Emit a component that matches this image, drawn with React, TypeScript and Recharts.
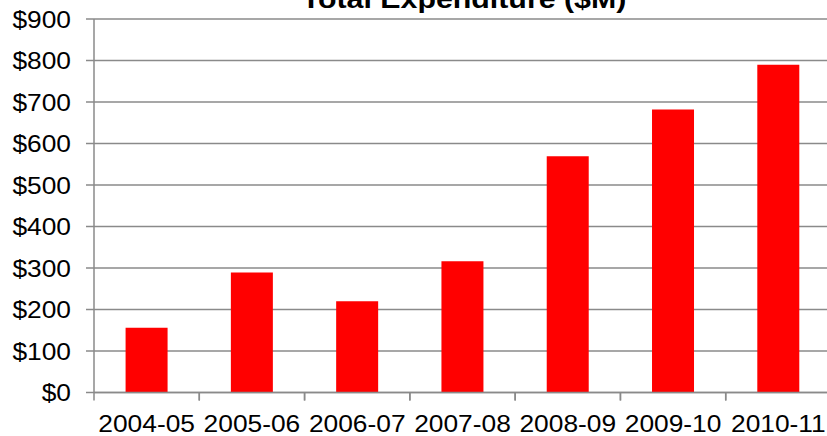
import React from "react";
import { BarChart, Bar, XAxis, YAxis, CartesianGrid } from "recharts";

const categories = ["2004-05", "2005-06", "2006-07", "2007-08", "2008-09", "2009-10", "2010-11"];
const expenditure = [156, 289, 220, 316, 569, 682, 790];
const yTicks = [0, 100, 200, 300, 400, 500, 600, 700, 800, 900];
const title = "Total Expenditure ($M)";

const data = categories.map((c, i) => ({ year: c, value: expenditure[i] }));

const FONT = "'Liberation Sans', Arial, sans-serif";
const STRETCH = 1.145;
const GRID = "#8a8a8a";

const XTick = (props: any) => {
  const { x, y, payload } = props;
  const off = payload && typeof payload.offset === "number" ? payload.offset : 737 / 7 / 2;
  const axisY = y - 8;
  return (
    <g>
      <line x1={x - off} x2={x - off} y1={axisY} y2={axisY + 8} stroke={GRID} strokeWidth={1.5} />
      <line x1={x + off} x2={x + off} y1={axisY} y2={axisY + 8} stroke={GRID} strokeWidth={1.5} />
      <text
        transform={`translate(${x},${y + 31}) scale(${STRETCH},1)`}
        textAnchor="middle"
        fontFamily={FONT}
        fontSize={23}
        fill="#000"
      >
        {payload.value}
      </text>
    </g>
  );
};

const YTick = (props: any) => {
  const { x, y, payload } = props;
  return (
    <text
      transform={`translate(${x},${y + 8.5}) scale(${STRETCH},1)`}
      textAnchor="end"
      fontFamily={FONT}
      fontSize={23}
      fill="#000"
    >
      {"$" + payload.value}
    </text>
  );
};

export default function App() {
  return (
    <div
      style={{
        position: "absolute",
        left: 0,
        top: 0,
        width: 827,
        height: 436,
        overflow: "hidden",
        background: "#fff",
      }}
    >
      <BarChart
        width={840}
        height={436}
        data={data}
        margin={{ top: 19, right: 9, left: 0, bottom: 0 }}
        barCategoryGap="30%"
      >
        <CartesianGrid vertical={false} stroke={GRID} strokeWidth={1.5} />
        <XAxis
          dataKey="year"
          height={43.5}
          tickSize={8}
          tickMargin={0}
          tickLine={false}
          axisLine={{ stroke: GRID, strokeWidth: 1.5 }}
          tick={<XTick />}
          interval={0}
        />
        <YAxis
          width={94}
          domain={[0, 900]}
          ticks={yTicks}
          tickSize={8}
          tickMargin={15}
          tickLine={{ stroke: GRID, strokeWidth: 1.5 }}
          axisLine={{ stroke: GRID, strokeWidth: 1.5 }}
          tick={<YTick />}
          interval={0}
        />
        <Bar dataKey="value" fill="#ff0000" isAnimationActive={false} />
      </BarChart>
      <svg
        width={827}
        height={40}
        style={{ position: "absolute", left: 0, top: 0, pointerEvents: "none" }}
      >
        <text
          transform={`translate(464,8.3) scale(${STRETCH},1)`}
          textAnchor="middle"
          fontFamily={FONT}
          fontWeight="bold"
          fontSize={26.5}
          fill="#000"
        >
          {title}
        </text>
      </svg>
    </div>
  );
}
